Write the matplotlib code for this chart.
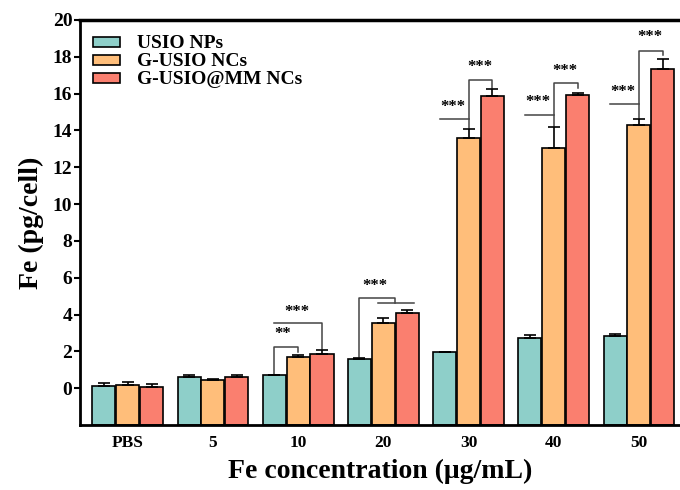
import numpy as np
import matplotlib.pyplot as plt
from matplotlib.patches import Rectangle

# data
groups = ["PBS", "5", "10", "20", "30", "40", "50"]
series = ["USIO NPs", "G-USIO NCs", "G-USIO@MM NCs"]
usio = [0.12, 0.60, 0.70, 1.60, 1.95, 2.75, 2.85]
usio_err = [0.15, 0.10, 0.03, 0.05, 0.03, 0.15, 0.08]
gusio = [0.15, 0.47, 1.72, 3.55, 13.60, 13.06, 14.30]
gusio_err = [0.20, 0.05, 0.08, 0.25, 0.50, 1.14, 0.30]
gmm = [0.08, 0.60, 1.85, 4.10, 15.88, 15.93, 17.34]
gmm_err = [0.15, 0.12, 0.20, 0.15, 0.38, 0.13, 0.55]
colors = ["#8ECFC9", "#FFBE7A", "#FA7F6F"]

# significance brackets for 30/40/50: left stub level, top level, red drop level, star heights
hi_groups = [4, 5, 6]
stub_lv = [14.6, 14.85, 15.45]
top_lv = [16.75, 16.6, 18.3]
drop_lv = [16.3, 16.3, 18.1]
star_left = [15.3, 15.6, 16.15]
star_top = [17.5, 17.3, 19.1]

plt.rcParams["font.family"] = ["Liberation Serif", "DejaVu Serif"]
plt.rcParams["font.weight"] = "bold"

W, H = 680, 490
fig = plt.figure(figsize=(6.8, 4.9), dpi=100)
ax = fig.add_axes([80 / W, 1 - 425 / H, 1 - 80 / W, (425 - 20) / H])

x = np.arange(len(groups))
w = 0.27
off = 0.28
base = -2
for i, (vals, errs) in enumerate([(usio, usio_err), (gusio, gusio_err), (gmm, gmm_err)]):
    xi = x + (i - 1) * off
    vals = np.array(vals)
    ax.bar(xi, vals - base, bottom=base, width=w, color=colors[i],
           edgecolor="black", linewidth=1.2, zorder=2)
    ax.errorbar(xi, vals, yerr=[np.zeros_like(vals), errs], fmt="none",
                ecolor="black", elinewidth=1.2, capsize=4, capthick=1.2, zorder=3)

lc = "#444444"
lw = 1.1
star_kw = dict(ha="center", va="center", fontsize=12, fontweight="bold")

# group 10
xt, xo, xr = 2 - off, 2, 2 + off
ax.plot([xt, xt, xo, xo], [0.78, 2.22, 2.22, 1.98], color=lc, lw=lw)
ax.plot([xt, xr, xr], [3.52, 3.52, 2.12], color=lc, lw=lw)
ax.text(xt + 0.1, 2.95, "**", **star_kw)
ax.text(xo - 0.02, 4.15, "***", **star_kw)

# group 20
xt, xo, xr = 3 - off, 3, 3 + off
xm = (xo + xr) / 2
ax.plot([xt, xt, xm, xm], [1.72, 4.88, 4.88, 4.6], color=lc, lw=lw)
ax.plot([xo - 0.06, xr + 0.08], [4.6, 4.6], color=lc, lw=lw)
ax.text(xt + 0.18, 5.55, "***", **star_kw)

# groups 30, 40, 50
for g, s, t, d, sl, st in zip(hi_groups, stub_lv, top_lv, drop_lv, star_left, star_top):
    xo, xr = g, g + off
    oc = gusio[g] + gusio_err[g]
    ax.plot([g - 0.34, xo], [s, s], color=lc, lw=lw)
    ax.plot([xo, xo, xr, xr], [oc + 0.05, t, t, d], color=lc, lw=lw)
    ax.text(g - 0.19, sl - 0.05, "***", **star_kw)
    ax.text(g + 0.13, st - 0.05, "***", **star_kw)

ax.set_xlim(-0.56, 6 + 41 / 85.2)
ax.set_ylim(-2, 20)
ax.set_yticks(np.arange(0, 21, 2))
ax.set_xticks(x)
ax.set_xticklabels(groups)
ax.tick_params(axis="y", direction="out", length=4, width=1.5, labelsize=14, pad=1.5)
ax.tick_params(axis="x", direction="in", length=5, width=2, labelsize=12.5, pad=7)
for lab in ax.get_xticklabels() + ax.get_yticklabels():
    lab.set_fontweight("bold")

for side in ["left", "bottom"]:
    ax.spines[side].set_linewidth(2)
ax.spines["top"].set_linewidth(2.5)
ax.spines["right"].set_visible(False)

ax.set_xlabel("Fe concentration (\u03bcg/mL)", fontsize=20, fontweight="bold", labelpad=6)
ax.set_ylabel("Fe (pg/cell)", fontsize=20, fontweight="bold", labelpad=6)

# legend drawn by hand to get the tight row spacing of the original
for i, (c, name) in enumerate(zip(colors, series)):
    yc = 42 + 18 * i
    fig.add_artist(Rectangle((93 / W, 1 - (yc + 5) / H), 27 / W, 10 / H,
                             transform=fig.transFigure, facecolor=c,
                             edgecolor="black", linewidth=1.2))
    fig.text(137 / W, 1 - yc / H, name, fontsize=14, fontweight="bold",
             ha="left", va="center_baseline")

fig.savefig("out.png", dpi=100)
